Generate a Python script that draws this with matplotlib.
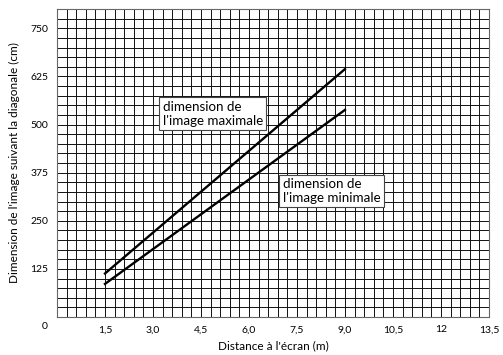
import numpy as np
import matplotlib
matplotlib.use("Agg")
import matplotlib.pyplot as plt

plt.rcParams["font.family"] = ["Lato", "DejaVu Sans"]

# Values
distance = [1.5, 9.0]
taille_max = [113, 644]
taille_min = [86, 538]

x_ticks = [1.5, 3.0, 4.5, 6.0, 7.5, 9.0, 10.5, 12.0, 13.5]
x_labels = ["1,5", "3,0", "4,5", "6,0", "7,5", "9,0", "10,5", "12", "13,5"]
y_ticks = [125, 250, 375, 500, 625, 750]
y_labels = ["125", "250", "375", "500", "625", "750"]

fig = plt.figure(figsize=(5.03, 3.55), dpi=100)
ax = fig.add_axes([0.1133, 0.107, 0.8588, 0.8676])

# Fine grid: 0,3 m by 25 cm
ax.set_xticks(np.arange(0, 13.51, 0.3), minor=True)
ax.set_yticks(np.arange(0, 801, 25), minor=True)
ax.set_xticks(x_ticks)
ax.set_xticklabels(x_labels)
ax.set_yticks(y_ticks)
ax.set_yticklabels(y_labels)
ax.grid(which="both", color="#111111", linewidth=0.7)
ax.set_axisbelow(True)
ax.tick_params(which="both", length=0, labelsize=7.5, pad=6)

ax.plot(distance, taille_max, color="black", linewidth=1.7)
ax.plot(distance, taille_min, color="black", linewidth=1.7)

ax.set_xlim(0, 13.5)
ax.set_ylim(0, 800)
for s in ax.spines.values():
    s.set_linewidth(0.8)
    s.set_color("#666666")

ax.annotate("0", xy=(0, 0), xytext=(-12, -9), textcoords="offset pixels",
            ha="center", va="center", fontsize=7.5)

box = dict(boxstyle="square,pad=0.25", facecolor="white", edgecolor="#444444", linewidth=0.8)
ax.text(3.3, 528, "dimension de\nl'image maximale", fontsize=9.6, ha="left", va="center",
        bbox=box, linespacing=1.2)
ax.text(7.05, 327, "dimension de\nl'image minimale", fontsize=9.6, ha="left", va="center",
        bbox=box, linespacing=1.2)

ax.set_xlabel("Distance à l'écran (m)", fontsize=8.5, labelpad=4)
ax.set_ylabel("Dimension de l'image suivant la diagonale (cm)", fontsize=8.5, labelpad=8)

fig.savefig("out.png", dpi=100)
